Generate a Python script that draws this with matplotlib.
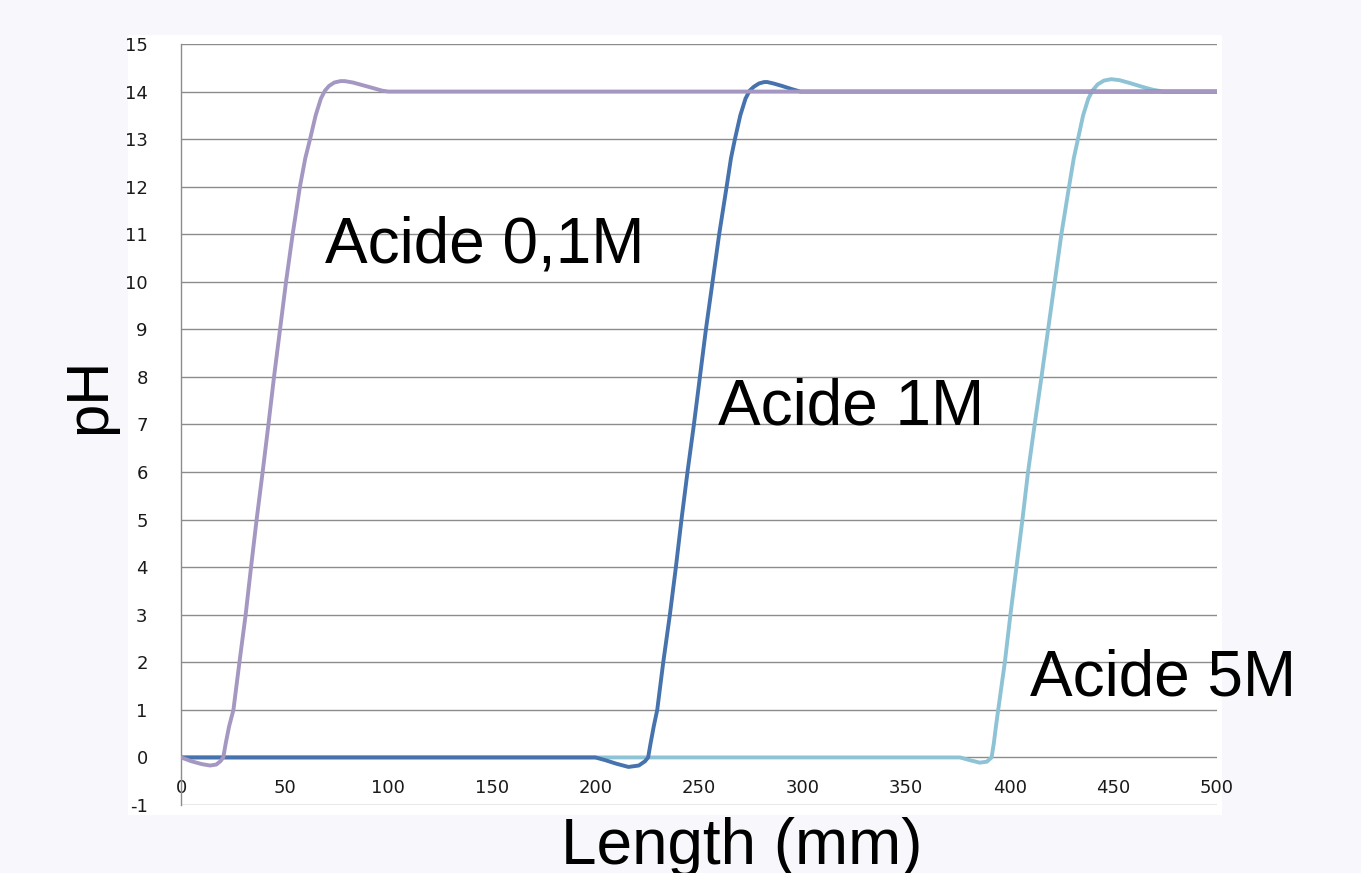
import matplotlib.pyplot as plt
from matplotlib.patches import Rectangle

plt.rcParams['font.family'] = ['Liberation Sans', 'DejaVu Sans']

# pH profiles (length in mm, pH)
x_01m = [0, 5, 10, 14, 17, 19, 20.4, 21.6, 23.2, 25.3, 28.2, 31.2, 33.8, 36.5, 39.4, 42.2,
         44.9, 47.8, 50.7, 53.9, 57.4, 60, 62.3, 65, 67.5, 69.5, 71.5, 74, 77, 79,
         83, 88, 93, 97, 100, 500]
y_01m = [0, -0.08, -0.14, -0.17, -0.15, -0.08, 0, 0.3, 0.65, 1, 2, 3, 4, 5, 6, 7,
         8, 9, 10, 11, 12, 12.6, 13, 13.5, 13.85, 14.02, 14.12, 14.19, 14.22, 14.22,
         14.19, 14.13, 14.07, 14.02, 14, 14]

x_1m = [0, 200, 205, 210, 216, 221, 224, 225.5, 226.7, 228.2, 229.9, 232.8, 236, 238.9,
        241.6, 244.5, 247.6, 250.5, 253.4, 256.6, 259.8, 263.4, 265.5, 267.4, 270,
        272.5, 274.5, 276.5, 279, 281.5, 283, 286, 290, 295, 299, 500]
y_1m = [0, 0, -0.06, -0.13, -0.2, -0.17, -0.08, 0, 0.3, 0.65, 1, 2, 3, 4,
        5, 6, 7, 8, 9, 10, 11, 12, 12.6, 13, 13.5, 13.85, 14.02, 14.1, 14.17,
        14.2, 14.2, 14.17, 14.12, 14.05, 14, 14]

x_5m = [0, 376, 381, 385.6, 389, 391.3, 392.4, 393.4, 394.5, 397.7, 400.4, 403.3, 406.2,
        408.9, 412.1, 415.4, 418.6, 421.8, 425, 428.7, 431, 433, 435.5, 438, 440,
        442.5, 445.5, 449, 453, 458, 464, 469, 474, 500]
y_5m = [0, 0, -0.06, -0.11, -0.09, 0, 0.3, 0.65, 1, 2, 3, 4, 5,
        6, 7, 8, 9, 10, 11, 12, 12.6, 13, 13.5, 13.85, 14.02,
        14.15, 14.23, 14.26, 14.24, 14.18, 14.1, 14.04, 14, 14]

labels = ['Acide 0,1M', 'Acide 1M', 'Acide 5M']
label_x = [69.5, 259.2, 409.8]
label_y = [10.41, 7.0, 1.3]

x_ticks = [0, 50, 100, 150, 200, 250, 300, 350, 400, 450, 500]
y_ticks = list(range(-1, 16))

fig = plt.figure(figsize=(13.61, 8.73), dpi=100, facecolor='#F7F7FC')

# white chart area behind the plot
fig.patches.append(Rectangle((0.094, 0.0664), 0.804, 0.8936, transform=fig.transFigure,
                             facecolor='white', edgecolor='none', zorder=-10))

ax = fig.add_axes([0.133, 0.0779, 0.761, 0.8717])
ax.set_facecolor('none')

ax.plot(x_5m, y_5m, color='#8EC3D6', lw=2.8, solid_joinstyle='round', zorder=3)
ax.plot(x_1m, y_1m, color='#4672AD', lw=2.8, solid_joinstyle='round', zorder=4)
ax.plot(x_01m, y_01m, color='#A497C2', lw=2.8, solid_joinstyle='round', zorder=5)

ax.set_xlim(0, 500)
ax.set_ylim(-1, 15)
ax.set_xticks(x_ticks)
ax.set_yticks(y_ticks)
ax.set_xticklabels([str(v) for v in x_ticks], family='DejaVu Sans')
ax.set_yticklabels([str(v) for v in y_ticks], family='DejaVu Sans')
ax.grid(axis='y', color='#8C8C8C', lw=1.0)
ax.set_axisbelow(True)

for side in ['top', 'right', 'bottom']:
    ax.spines[side].set_visible(False)
ax.spines['left'].set_color('#8C8C8C')
ax.spines['left'].set_linewidth(1.0)

ax.tick_params(axis='y', length=0, pad=24, labelsize=13, labelcolor='#1a1a1a')
ax.tick_params(axis='x', length=0, pad=-19, labelsize=13, labelcolor='#1a1a1a')

for lab, lx, ly in zip(labels, label_x, label_y):
    ax.text(lx, ly, lab, fontsize=46, ha='left', va='baseline', color='black', zorder=6)

fig.text(0.066, 0.547, 'pH', rotation=90, fontsize=43, ha='center', va='center')
fig.text(0.545, 1 - 864 / 873, 'Length (mm)', fontsize=46, ha='center', va='baseline')

fig.savefig('out.png', dpi=100, facecolor=fig.get_facecolor())
